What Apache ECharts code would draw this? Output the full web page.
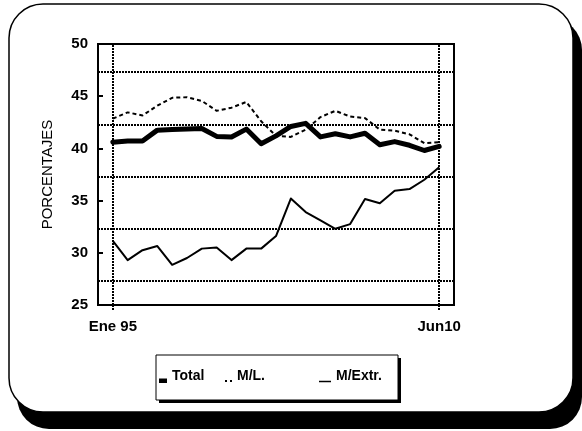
<!DOCTYPE html>
<html>
<head>
<meta charset="utf-8">
<script src="https://cdn.jsdelivr.net/npm/echarts@6/dist/echarts.min.js"></script>
<style>
  html, body { margin: 0; padding: 0; background: #fff; }
  #chart { width: 582px; height: 431px; }
</style>
</head>
<body>
<div id="chart"></div>
<script>
// ---- data ----
var seriesNames = ['Total', 'M/L.', 'M/Extr.'];
var xTickIndex = [0, 22];
var xTickLabels = ['Ene 95', 'Jun10'];
var totalValues = [40.6, 40.7, 40.7, 41.75, 41.8, 41.85, 41.9, 41.15, 41.1, 41.85, 40.45, 41.2,
                   42.1, 42.4, 41.1, 41.4, 41.1, 41.45, 40.35, 40.65, 40.3, 39.8, 40.2];
var mlValues = [42.85, 43.45, 43.15, 44.1, 44.85, 44.9, 44.55, 43.6, 43.9, 44.45, 42.6, 41.2,
                41.1, 41.8, 43.0, 43.6, 43.05, 42.9, 41.8, 41.7, 41.35, 40.5, 40.6];
var mextrValues = [31.15, 29.3, 30.25, 30.65, 28.85, 29.5, 30.4, 30.5, 29.3, 30.4, 30.4, 31.6,
                   35.2, 33.9, 33.1, 32.3, 32.75, 35.15, 34.75, 35.95, 36.1, 37.0, 38.2];
var gridLevels = [47.3, 42.3, 37.3, 32.3, 27.3];
var yTicks = { min: 25, max: 50, step: 5 };

function pairs(vals) { return vals.map(function (v, i) { return [i, v]; }); }

var FONT = 'Liberation Sans, Arial, Helvetica, sans-serif';
var chart = echarts.init(document.getElementById('chart'), null, { renderer: 'canvas' });

var dotted = { color: '#000', type: [2, 1], width: 2 };

function legendFor(name, icon, w, h, left) {
  return {
    data: [name], left: left, top: 369, padding: 0,
    icon: icon, itemWidth: w, itemHeight: h, itemGap: 0,
    selectedMode: false,
    itemStyle: { color: '#000', borderWidth: 0 },
    textStyle: { fontFamily: FONT, fontSize: 14, fontWeight: 'bold', color: '#000' }
  };
}

var option = {
  animation: false,
  backgroundColor: '#fff',
  color: ['#000', '#000', '#000'],
  graphic: [
    { type: 'rect', z: -10, shape: { x: 17, y: 18, width: 565, height: 411, r: 32 }, style: { fill: '#000' } },
    { type: 'rect', z: -9, shape: { x: 9, y: 4, width: 564, height: 408, r: 34 }, style: { fill: '#fff', stroke: '#000', lineWidth: 1.5 } },
    { type: 'rect', z: 3, shape: { x: 159, y: 358, width: 242, height: 45 }, style: { fill: '#000' } },
    { type: 'rect', z: 3, shape: { x: 156, y: 355, width: 242, height: 45 }, style: { fill: '#fff', stroke: '#000', lineWidth: 1 } }
  ],
  legend: [
    legendFor(seriesNames[0], 'path://M0,0 M0,9.5 h8 v4.5 h-8 z', 8, 14, 159),
    legendFor(seriesNames[1], 'path://M0,0 M0,10 h2 v2 h-2 z M5,10 h2 v2 h-2 z', 7, 14, 225),
    legendFor(seriesNames[2], 'path://M0,0 M0,11 h12 v1.5 h-12 z', 12, 14, 319)
  ],
  grid: {
    left: 98, top: 44, right: 128, bottom: 126,
    show: true, borderColor: '#000', borderWidth: 2, backgroundColor: 'transparent'
  },
  xAxis: {
    type: 'value', min: -1, max: 23, interval: 1,
    axisLine: { show: true, onZero: false, lineStyle: { color: '#000', width: 2 } },
    axisTick: { show: true, customValues: xTickIndex, length: 5, lineStyle: dotted },
    splitLine: { show: false },
    axisLabel: {
      customValues: xTickIndex,
      margin: 14,
      fontFamily: FONT, fontSize: 15, fontWeight: 'bold', color: '#000',
      formatter: function (v) {
        var k = xTickIndex.indexOf(Math.round(v));
        return k >= 0 ? xTickLabels[k] : '';
      }
    }
  },
  yAxis: {
    type: 'value', min: yTicks.min, max: yTicks.max, interval: yTicks.step,
    name: 'PORCENTAJES', nameLocation: 'middle', nameGap: 43, nameRotate: 90,
    nameTextStyle: { fontFamily: FONT, fontSize: 15, color: '#000' },
    axisLine: { show: true, onZero: false, lineStyle: { color: '#000', width: 2 } },
    axisTick: { show: true, inside: true, length: 5, lineStyle: { color: '#000', width: 2 } },
    splitLine: { show: false },
    axisLabel: { margin: 10, fontFamily: FONT, fontSize: 15, fontWeight: 'bold', color: '#000' }
  },
  series: [
    {
      name: seriesNames[0], type: 'line', data: pairs(totalValues),
      showSymbol: false, symbol: 'none', z: 4,
      lineStyle: { color: '#000', width: 5, join: 'round', cap: 'round' }
    },
    {
      name: seriesNames[1], type: 'line', data: pairs(mlValues),
      showSymbol: false, symbol: 'none', z: 3,
      lineStyle: { color: '#000', width: 2, type: [4, 3] }
    },
    {
      name: seriesNames[2], type: 'line', data: pairs(mextrValues),
      showSymbol: false, symbol: 'none', z: 3,
      lineStyle: { color: '#000', width: 2, join: 'round' },
      markLine: {
        silent: true, symbol: ['none', 'none'], label: { show: false },
        lineStyle: dotted, z: 2,
        data: gridLevels.map(function (v) { return { yAxis: v }; })
          .concat(xTickIndex.map(function (i) { return { xAxis: i }; }))
      }
    }
  ]
};
chart.setOption(option);
</script>
</body>
</html>
